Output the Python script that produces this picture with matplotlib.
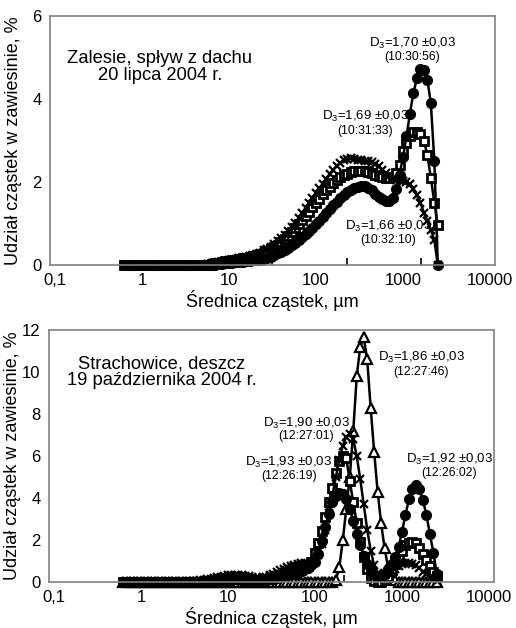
import matplotlib
matplotlib.use('Agg')
import matplotlib.pyplot as plt
from matplotlib.ticker import FixedLocator, NullFormatter

plt.rcParams['font.family'] = ['Liberation Sans', 'DejaVu Sans']
plt.rcParams['mathtext.fontset'] = 'custom'
plt.rcParams['mathtext.rm'] = 'Liberation Sans'
plt.rcParams['mathtext.it'] = 'Liberation Sans:italic'

# particle size classes (um), shared by all curves
x_um = [0.631, 0.692, 0.759, 0.832, 0.912, 1.000, 1.096, 1.202, 1.318, 1.445,
        1.585, 1.738, 1.905, 2.089, 2.291, 2.512, 2.754, 3.020, 3.311, 3.631,
        3.981, 4.365, 4.786, 5.248, 5.754, 6.310, 6.918, 7.586, 8.318, 9.120,
        10.00, 10.96, 12.02, 13.18, 14.45, 15.85, 17.38, 19.05, 20.89, 22.91,
        25.12, 27.54, 30.20, 33.11, 36.31, 39.81, 43.65, 47.86, 52.48, 57.54,
        63.10, 69.18, 75.86, 83.18, 91.20, 100.0, 109.6, 120.2, 131.8, 144.5,
        158.5, 173.8, 190.5, 208.9, 229.1, 251.2, 275.4, 302.0, 331.1, 363.1,
        398.1, 436.5, 478.6, 524.8, 575.4, 631.0, 691.8, 758.6, 831.8, 912.0,
        1000, 1096, 1202, 1318, 1445, 1585, 1738, 1905, 2089, 2291,
        2512]

# Zalesie, 20 lipca 2004
zal_1030 = [0, 0, 0, 0, 0, 0, 0, 0, 0, 0,
            0, 0, 0, 0, 0, 0, 0, 0, 0, 0,
            0, 0, 0, 0, 0, 0.01, 0.01, 0.02, 0.03, 0.04,
            0.05, 0.06, 0.07, 0.075, 0.08, 0.09, 0.10, 0.11, 0.12, 0.13,
            0.15, 0.17, 0.20, 0.24, 0.28, 0.32, 0.37, 0.42, 0.48, 0.54,
            0.60, 0.67, 0.74, 0.82, 0.90, 0.98, 1.07, 1.16, 1.25, 1.35,
            1.44, 1.53, 1.61, 1.68, 1.75, 1.81, 1.85, 1.88, 1.90, 1.90,
            1.86, 1.80, 1.72, 1.65, 1.59, 1.54, 1.54, 1.62, 1.82, 2.18,
            2.60, 3.10, 3.65, 4.15, 4.50, 4.72, 4.70, 4.45, 3.90, 2.50,
            0.0]
zal_1031 = [0, 0, 0, 0, 0, 0, 0, 0, 0, 0,
            0, 0, 0, 0, 0, 0, 0, 0, 0, 0,
            0, 0, 0, 0, 0.01, 0.03, 0.04, 0.06, 0.07, 0.09,
            0.10, 0.12, 0.13, 0.15, 0.17, 0.18, 0.20, 0.22, 0.24, 0.27,
            0.30, 0.34, 0.38, 0.43, 0.49, 0.56, 0.63, 0.71, 0.79, 0.88,
            0.98, 1.08, 1.18, 1.28, 1.39, 1.49, 1.60, 1.70, 1.80, 1.89,
            1.98, 2.05, 2.11, 2.16, 2.20, 2.24, 2.26, 2.27, 2.27, 2.26,
            2.24, 2.21, 2.18, 2.15, 2.12, 2.10, 2.09, 2.12, 2.22, 2.42,
            2.75, 2.95, 3.12, 3.20, 3.20, 3.15, 3.00, 2.65, 2.10, 1.50,
            0.96]
zal_1032 = [0, 0, 0, 0, 0, 0, 0, 0, 0, 0,
            0, 0, 0, 0, 0, 0, 0, 0, 0, 0,
            0, 0, 0, 0.01, 0.02, 0.04, 0.05, 0.07, 0.08, 0.10,
            0.12, 0.13, 0.15, 0.16, 0.18, 0.20, 0.22, 0.24, 0.27, 0.30,
            0.35, 0.39, 0.44, 0.50, 0.57, 0.64, 0.72, 0.81, 0.91, 1.02,
            1.13, 1.25, 1.37, 1.49, 1.61, 1.73, 1.85, 1.96, 2.08, 2.19,
            2.30, 2.39, 2.46, 2.52, 2.56, 2.57, 2.56, 2.54, 2.52, 2.51,
            2.50, 2.48, 2.44, 2.38, 2.30, 2.22, 2.14, 2.09, 2.06, 2.04,
            2.02, 1.99, 1.94, 1.84, 1.68, 1.50, 1.26, 1.05, 0.85, 0.60,
            0.0]

# Strachowice, 19 pazdziernika 2004
str_1226_02 = [0, 0, 0, 0, 0, 0, 0, 0, 0, 0,
               0, 0, 0, 0, 0, 0, 0, 0, 0, 0,
               0, 0, 0, 0, 0, 0.02, 0.03, 0.05, 0.06, 0.08,
               0.10, 0.11, 0.12, 0.12, 0.12, 0.11, 0.10, 0.09, 0.09, 0.09,
               0.10, 0.11, 0.13, 0.15, 0.19, 0.24, 0.28, 0.33, 0.38, 0.43,
               0.48, 0.54, 0.60, 0.68, 0.80, 0.95, 1.35, 1.95, 2.60, 3.25,
               3.80, 4.10, 4.25, 4.20, 3.95, 3.50, 2.90, 2.30, 1.75, 1.25,
               0.85, 0.55, 0.35, 0.27, 0.27, 0.40, 0.60, 0.85, 1.20, 1.65,
               2.40, 3.20, 3.95, 4.45, 4.60, 4.45, 3.90, 3.20, 2.30, 1.40,
               0.40]
str_1226_19 = [0, 0, 0, 0, 0, 0, 0, 0, 0, 0,
               0, 0, 0, 0, 0, 0, 0, 0, 0, 0,
               0, 0, 0, 0, 0.02, 0.04, 0.05, 0.07, 0.08, 0.10,
               0.12, 0.12, 0.13, 0.13, 0.12, 0.11, 0.10, 0.09, 0.09, 0.09,
               0.10, 0.12, 0.14, 0.18, 0.23, 0.28, 0.33, 0.38, 0.42, 0.47,
               0.52, 0.58, 0.66, 0.78, 0.95, 1.40, 1.85, 2.45, 3.10, 3.80,
               4.50, 5.20, 5.75, 6.00, 5.90, 4.80, 3.80, 2.80, 1.90, 1.20,
               0.60, 0.20, 0.05, 0.0, 0.0, 0.10, 0.25, 0.55, 0.85, 1.20,
               1.50, 1.75, 1.88, 1.90, 1.86, 1.60, 1.35, 1.05, 0.75, 0.50,
               0.30]
str_1227_01 = [0, 0, 0, 0, 0, 0, 0, 0, 0, 0,
               0, 0, 0, 0, 0, 0, 0, 0, 0.01, 0.02,
               0.04, 0.06, 0.08, 0.11, 0.13, 0.16, 0.19, 0.22, 0.25, 0.28,
               0.31, 0.33, 0.34, 0.34, 0.33, 0.30, 0.27, 0.23, 0.21, 0.20,
               0.22, 0.26, 0.32, 0.39, 0.47, 0.55, 0.63, 0.70, 0.77, 0.83,
               0.88, 0.90, 0.89, 0.88, 0.90, 1.00, 1.30, 1.80, 2.50, 3.30,
               4.10, 5.00, 5.80, 6.50, 6.90, 7.05, 6.80, 6.00, 4.90, 3.70,
               2.50, 1.50, 0.80, 0.45, 0.35, 0.35, 0.42, 0.52, 0.63, 0.74,
               0.85, 0.89, 0.90, 0.87, 0.80, 0.65, 0.50, 0.38, 0.25, 0.13,
               0.05]
str_1227_46 = [0, 0, 0, 0, 0, 0, 0, 0, 0, 0,
               0, 0, 0, 0, 0, 0, 0, 0, 0, 0,
               0, 0, 0, 0, 0, 0, 0, 0, 0, 0,
               0, 0, 0, 0, 0, 0, 0, 0, 0, 0,
               0, 0, 0, 0, 0, 0, 0, 0, 0, 0,
               0, 0, 0, 0, 0, 0, 0, 0, 0, 0,
               0, 0.10, 0.70, 2.00, 3.50, 5.00, 7.20, 9.80, 11.20, 11.65,
               10.60, 8.30, 6.20, 4.30, 2.80, 1.60, 0.70, 0.25, 0.08, 0.02,
               0, 0, 0, 0, 0, 0, 0, 0, 0, 0,
               0]

x_ticks = [0.1, 1, 10, 100, 1000, 10000]
x_ticklabels = ['0,1', '1', '10', '100', '1000', '10000']

fig = plt.figure(figsize=(5.16, 6.28), dpi=100)
ax1 = fig.add_axes([50 / 516, 1 - 265 / 628, 445 / 516, 249 / 628])
ax2 = fig.add_axes([49 / 516, 1 - 582 / 628, 445 / 516, 252 / 628])

line_kw = dict(color='black', lw=1.8, clip_on=False)
circle_kw = dict(marker='o', ms=7, mfc='black', mec='black', **line_kw)
square_kw = dict(marker='s', ms=6.0, mfc='white', mec='black', mew=2.0, **line_kw)
cross_kw = dict(marker='x', ms=6.3, mec='black', mew=1.6, **line_kw)
tri_kw = dict(marker='^', ms=7.8, mfc='white', mec='black', mew=1.6, **line_kw)

# top panel (drawing order: open squares underneath)
ax1.plot(x_um, zal_1031, **square_kw)
ax1.plot(x_um, zal_1032, **cross_kw)
ax1.plot(x_um, zal_1030, **circle_kw)
ax1.set_ylim(0, 6)
ax1.set_yticks([0, 2, 4, 6])

# bottom panel
ax2.plot(x_um, str_1227_46, **tri_kw)
ax2.plot(x_um, str_1226_19, **square_kw)
ax2.plot(x_um, str_1226_02, **circle_kw)
ax2.plot(x_um, str_1227_01, **cross_kw)
ax2.set_ylim(0, 12)
ax2.set_yticks([0, 2, 4, 6, 8, 10, 12])

for ax, odd_ticks in [(ax1, [31.2, 227, 1611]), (ax2, [215])]:
    ax.set_xscale('log')
    ax.set_xlim(0.088, 11400)
    ax.set_xticks(x_ticks)
    ax.set_xticklabels(x_ticklabels)
    ax.xaxis.set_minor_locator(FixedLocator(odd_ticks))
    ax.xaxis.set_minor_formatter(NullFormatter())
    ax.tick_params(axis='both', which='major', length=0, labelsize=12, pad=6)
    ax.tick_params(axis='x', which='minor', direction='in', length=5, width=1.2, color='black')
    for s in ax.spines.values():
        s.set_color('#808080')
        s.set_linewidth(1.2)
    ax.set_xlabel('Średnica cząstek, µm', fontsize=13, labelpad=1)
    ax.set_ylabel('Udział cząstek w zawiesinie, %', fontsize=13)
    ax.yaxis.set_label_coords(-0.063, 0.5)

d_size = 9.5
t_size = 8.8
place_size = 13.2

ax1.text(1.61, 4.77, 'Zalesie, spływ z dachu\n20 lipca 2004 r.', fontsize=place_size,
         ha='center', va='center', linespacing=1.0)
ax1.text(1268, 5.35, 'D$_\\mathregular{3}$=1,70 ±0,03', fontsize=d_size, ha='center', va='center')
ax1.text(1268, 5.01, '(10:30:56)', fontsize=t_size, ha='center', va='center')
ax1.text(366, 3.57, 'D$_\\mathregular{3}$=1,69 ±0,03', fontsize=d_size, ha='center', va='center')
ax1.text(366, 3.23, '(10:31:33)', fontsize=t_size, ha='center', va='center')
ax1.text(673, 0.92, 'D$_\\mathregular{3}$=1,66 ±0,03', fontsize=d_size, ha='center', va='center')
ax1.text(673, 0.60, '(10:32:10)', fontsize=t_size, ha='center', va='center')

ax2.text(1.74, 9.98, 'Strachowice, deszcz\n19 października 2004 r.', fontsize=place_size,
         ha='center', va='center', linespacing=1.0)
ax2.text(1652, 10.67, 'D$_\\mathregular{3}$=1,86 ±0,03', fontsize=d_size, ha='center', va='center')
ax2.text(1652, 10.0, '(12:27:46)', fontsize=t_size, ha='center', va='center')
ax2.text(78.9, 7.56, 'D$_\\mathregular{3}$=1,90 ±0,03', fontsize=d_size, ha='center', va='center')
ax2.text(78.9, 6.94, '(12:27:01)', fontsize=t_size, ha='center', va='center')
ax2.text(50.2, 5.69, 'D$_\\mathregular{3}$=1,93 ±0,03', fontsize=d_size, ha='center', va='center')
ax2.text(50.2, 5.07, '(12:26:19)', fontsize=t_size, ha='center', va='center')
ax2.text(3467, 5.84, 'D$_\\mathregular{3}$=1,92 ±0,03', fontsize=d_size, ha='center', va='center')
ax2.text(3467, 5.20, '(12:26:02)', fontsize=t_size, ha='center', va='center')

fig.savefig('out.png', dpi=100)
